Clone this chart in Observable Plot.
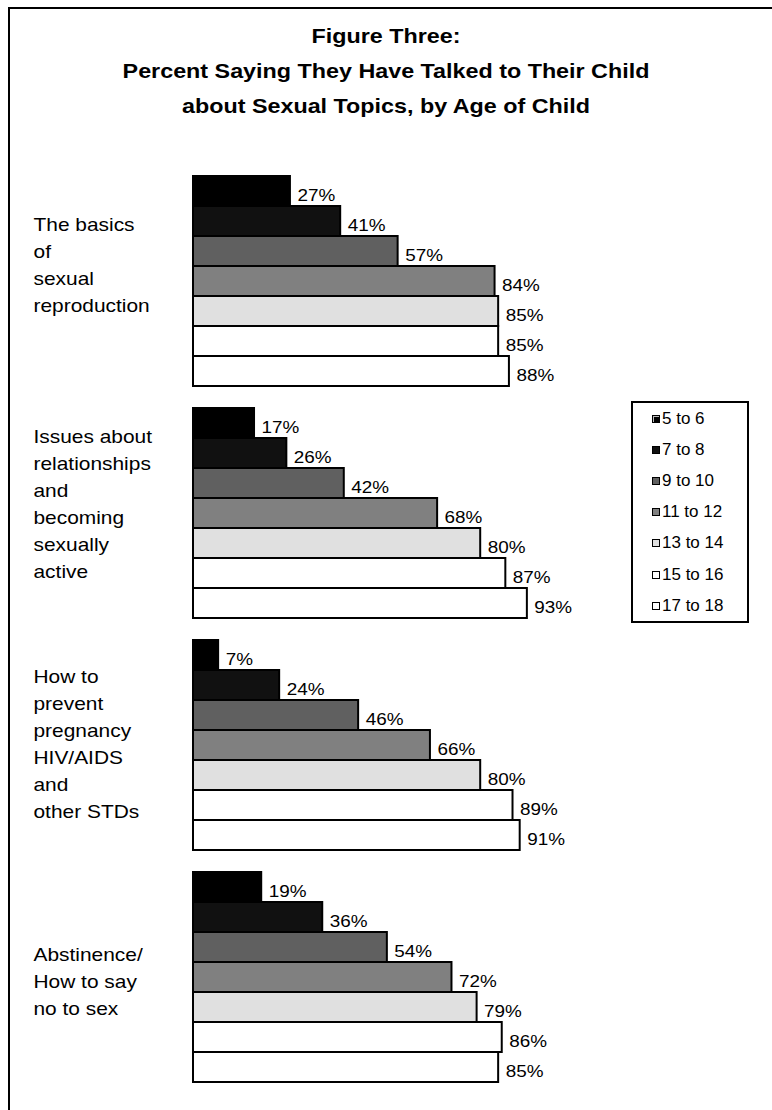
<!DOCTYPE html>
<html>
<head>
<meta charset="utf-8">
<script src="https://cdn.jsdelivr.net/npm/d3@7"></script>
<script src="https://cdn.jsdelivr.net/npm/@observablehq/plot@0.6"></script>
<style>
  html, body { margin: 0; padding: 0; background: #fff; width: 772px; height: 1110px; overflow: hidden; }
  body { font-family: "Liberation Sans", Arial, sans-serif; color: #000; position: relative; }
  #frame { position: absolute; left: 8px; top: 7px; width: 820px; height: 1150px; border: 2px solid #000; box-sizing: content-box; }
  #title { width: 752px; height: 114px; box-sizing: border-box; padding-top: 9px; text-align: center; font-weight: bold; font-size: 21px; line-height: 35px; transform: scaleX(1.11); transform-origin: 50% 0; }
  #chart svg { display: block; overflow: visible; }
  #legend { position: absolute; left: 631px; top: 401px; width: 118px; height: 222px; border: 2px solid #000; box-sizing: border-box; background: #fff; font-size: 17px; }
  #legend .item { height: 31.2px; display: flex; align-items: center; padding-left: 19px; }
  #legend .sw { width: 8px; height: 8px; box-sizing: border-box; border: 1.5px solid #000; margin-right: 2px; }
</style>
</head>
<body>
<div id="frame">
  <div id="title">Figure Three:<br>Percent Saying They Have Talked to Their Child<br>about Sexual Topics, by Age of Child</div>
  <div id="chart"></div>
</div>
<div id="legend"></div>
<script>
// ---- data ----
const topics = [
  "The basics of sexual reproduction",
  "Issues about relationships and becoming sexually active",
  "How to prevent pregnancy HIV/AIDS and other STDs",
  "Abstinence/ How to say no to sex"
];
const topicLabels = [
  "The basics\nof\nsexual\nreproduction",
  "Issues about\nrelationships\nand\nbecoming\nsexually\nactive",
  "How to\nprevent\npregnancy\nHIV/AIDS\nand\nother STDs",
  "Abstinence/\nHow to say\nno to sex"
];
const ages = ["5 to 6", "7 to 8", "9 to 10", "11 to 12", "13 to 14", "15 to 16", "17 to 18"];
const basicsValues       = [27, 41, 57, 84, 85, 85, 88];
const relationshipValues = [17, 26, 42, 68, 80, 87, 93];
const preventValues      = [7, 24, 46, 66, 80, 89, 91];
const abstinenceValues   = [19, 36, 54, 72, 79, 86, 85];
const seriesByTopic = [basicsValues, relationshipValues, preventValues, abstinenceValues];

// ---- styles ----
const fills = ["#000000", "#111111", "#606060", "#808080", "#e0e0e0", "#ffffff", "#ffffff"];
const labelOffsets = [38, 18, 26, 72];

const rows = [];
topics.forEach((t, i) => ages.forEach((a, j) => rows.push({topic: t, age: a, value: seriesByTopic[i][j]})));

const chart = Plot.plot({
  width: 780,
  height: 996,
  marginLeft: 183,
  marginRight: 238,
  marginTop: 50,
  marginBottom: 35,
  x: {domain: [0, 100], axis: null},
  y: {domain: ages, padding: 0, axis: null},
  fy: {domain: topics, paddingInner: 17 / 232, paddingOuter: 0, axis: null},
  color: {domain: ages, range: fills, type: "ordinal"},
  style: {fontFamily: "'Liberation Sans', Arial, sans-serif", color: "#000", background: "transparent"},
  marks: [
    Plot.barX(rows, {x: "value", y: "age", fy: "topic", fill: "age", stroke: "#000", strokeWidth: 2, inset: 0}),
    Plot.text(rows, {x: "value", y: "age", fy: "topic", text: d => d.value + "%", textAnchor: "start",
      dx: 7, dy: 4, fontSize: 16, fill: "#000", className: "vlabel"}),
    ...topics.map((t, i) => Plot.text([t], {
      fy: d => d, text: () => topicLabels[i], frameAnchor: "top-left", textAnchor: "start",
      lineAnchor: "top", lineHeight: 1.42, dx: -160, dy: labelOffsets[i], fontSize: 19, fill: "#000",
      className: "tlabel"
    }))
  ]
});
document.getElementById("chart").appendChild(chart);

// widen glyphs slightly to match the reference's wide lettering
function widen(selector, k) {
  chart.querySelectorAll(selector).forEach(el => {
    const parts = el.querySelectorAll("tspan");
    const targets = parts.length ? parts : [el];
    targets.forEach(p => {
      const len = p.getComputedTextLength();
      if (len > 0) {
        p.setAttribute("textLength", (len * k).toFixed(2));
        p.setAttribute("lengthAdjust", "spacingAndGlyphs");
      }
    });
  });
}
widen(".vlabel text", 1.18);
widen(".tlabel text", 1.1);

// ---- legend ----
const legend = document.getElementById("legend");
ages.forEach((a, i) => {
  const item = document.createElement("div");
  item.className = "item";
  const sw = document.createElement("span");
  sw.className = "sw";
  sw.style.background = fills[i];
  if (i === 0) sw.style.boxShadow = "inset 1px 1px 0 #bbb";
  item.appendChild(sw);
  item.appendChild(document.createTextNode(a));
  legend.appendChild(item);
});
</script>
</body>
</html>
